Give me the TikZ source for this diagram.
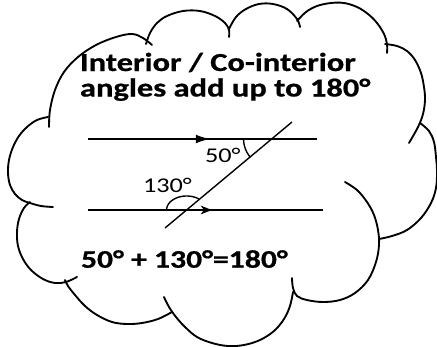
\documentclass[tikz,border=0pt]{standalone}
\usepackage{fontspec}
\usepackage{graphicx}
\setmainfont{Carlito}[BoldFeatures={FakeBold=0.6}]
\usetikzlibrary{arrows.meta}
\tikzset{
  bump/.style={draw=black, line width=1.4pt, line cap=round, line join=round},
  geo/.style={draw=black, line width=1.05pt},
  txt/.style={anchor=base west, inner sep=0pt, outer sep=0pt},
  headfont/.style={font=\fontsize{19.5pt}{22pt}\selectfont\bfseries},
  sumfont/.style={font=\fontsize{19pt}{21pt}\selectfont\bfseries},
  lblfont/.style={font=\fontsize{15.75pt}{18pt}\selectfont},
}
\newcommand{\sx}[1]{\scalebox{1.25}[1]{#1}}
\begin{document}
\begin{tikzpicture}[x=0.75pt,y=-0.75pt]
\useasboundingbox (0,0) rectangle (437,347);
% cloud bumps
\draw[bump] plot[smooth,tension=0.6] coordinates {(49,127) (50,110) (55,90) (64,72) (78,57) (96,45) (116,37) (132,34) (143,38) (152,45)};
\draw[bump] plot[smooth,tension=0.6] coordinates {(146,44) (150,33) (157,23) (167,16) (183,11) (200,11) (215,16) (225,23) (229,30) (229,37)};
\draw[bump] plot[smooth,tension=0.6] coordinates {(229,29) (236,17) (246,9) (259,4) (273,4) (287,9) (297,19) (300,27)};
\draw[bump] plot[smooth,tension=0.6] coordinates {(297,21) (306,12) (317,6) (331,3) (344,3) (357,7) (368,14) (377,23) (384,34) (387,44) (387,53)};
\draw[bump] plot[smooth,tension=0.6] coordinates {(385,44) (397,46) (407,51) (415,60) (421,73) (424,87) (425,100) (423,114) (418,127) (409,143)};
\draw[bump] plot[smooth,tension=0.6] coordinates {(420,123) (429,131) (434,142) (436,157) (437,172) (436,188) (431,203) (421,218) (407,230) (392,236) (379,239)};
\draw[bump] plot[smooth,tension=0.6] coordinates {(345,182) (357,190) (367,202) (374,215) (378,230) (379,245) (376,262) (368,280) (355,293) (340,300) (323,302) (307,300) (297,296) (293,288) (292,278)};
\draw[bump] plot[smooth,tension=0.6] coordinates {(293,292) (290,306) (284,319) (274,331) (260,340) (244,345) (228,346) (212,343) (197,337) (185,327) (176,317) (169,307) (164,297)};
\draw[bump] plot[smooth,tension=0.6] coordinates {(172,312) (158,319) (142,323) (127,324) (112,322) (97,315) (85,306) (75,295) (68,286) (65,280)};
\draw[bump] plot[smooth,tension=0.6] coordinates {(30,202) (24,208) (19,219) (17,232) (18,246) (23,259) (31,270) (43,279) (55,283) (66,282) (77,277)};
\draw[bump] plot[smooth,tension=0.6] coordinates {(48,117) (37,120) (27,127) (19,136) (13,147) (9,160) (8,173) (10,185) (15,194) (22,200) (30,203) (41,206) (53,207)};
% texts
\node[txt,headfont] (t1) at (80,71) {\sx{Interior / Co-interior}};
\node[txt,headfont] (t2) at (80,96.5) {\sx{angles add up to 180°}};
\node[txt,sumfont] (t3) at (81,267.7) {\sx{50° + 130°=180°}};
% geometry
\coordinate (L1) at (88,139);
\coordinate (R1) at (317,139);
\coordinate (M1) at (210,139);
\coordinate (L2) at (88,210);
\coordinate (R2) at (323,210);
\coordinate (M2) at (212,210);
\coordinate (TT) at (292,122);
\coordinate (TB) at (165,228);
\draw[geo] (L1) -- (R1);
\draw[geo] (L2) -- (R2);
\draw[geo] (TB) -- (TT);
\draw[geo,-{Latex[length=10.5pt,width=6.5pt]}] (L1) -- (M1);
\draw[geo,-{Stealth[length=8.5pt,width=6.5pt,inset=2.5pt]}] (L2) -- (M2);
\draw[geo] plot[domain=140:180,samples=20] ({271.6+28*cos(\x)},{139+28*sin(\x)});
\draw[geo] plot[domain=180:309.8,samples=40] ({186.6+20*cos(\x)},{210+14*sin(\x)});
\node[txt,lblfont] (a50) at (205,162) {\sx{50°}};
\node[txt,lblfont] (a130) at (143,192) {\sx{130°}};
\end{tikzpicture}
\end{document}
